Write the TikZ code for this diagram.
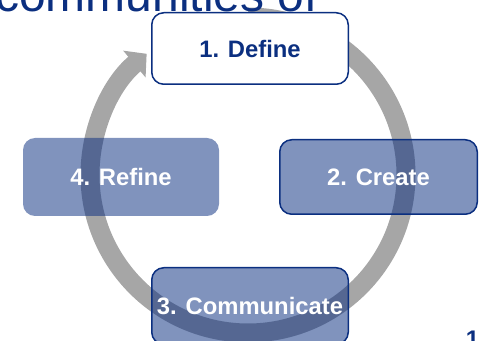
\documentclass[tikz,border=0pt]{standalone}
\usepackage{fontspec}
\setmainfont{Liberation Sans}
\usepackage{tikz}
\usetikzlibrary{arrows.meta}
\definecolor{stepblue}{HTML}{0B2F80}
\definecolor{ringgrey}{HTML}{A6A6A6}

\begin{document}
\begin{tikzpicture}[x=1pt,y=1pt,
		stepbox/.style={rounded corners=12pt,align=center,inner sep=0pt,font=\bfseries\fontsize{23.8}{28}\selectfont},
		bluebox/.style={stepbox,fill=stepblue,fill opacity=0.52,text opacity=1,text=white},
		ring/.style={line width=19pt,draw=ringgrey,-{Triangle[width=34pt,length=16pt]}}]
		\useasboundingbox (0,0) rectangle (479,340);
		\coordinate (hub)at(248,165);
		
		\draw[ring] ([shift={(90:158)}]hub) arc[start angle=90,end angle=-230.1,radius=158];
		
		\node[anchor=base west,inner sep=0pt,text=stepblue,font=\fontsize{48}{56}\selectfont] (title)at(-5,328) {communities of};
		\node[stepbox,draw=stepblue,line width=1.5pt,fill=white,text=stepblue,minimum width=196.5pt,minimum height=71.5pt] (define)at(250,291.5) {1. Define};
		\node[bluebox,draw=stepblue,line width=1.5pt,minimum width=197.5pt,minimum height=74.5pt] (create)at(378.5,163) {2. Create};
		\node[bluebox,draw=stepblue,line width=1.5pt,minimum width=196.5pt,minimum height=76.5pt] (communicate)at(250,34) {3. Communicate};
		\node[bluebox,minimum width=196pt,minimum height=78pt] (refine)at(121,163) {4. Refine};
		\node[anchor=base,inner sep=0pt,text=stepblue,font=\bfseries\fontsize{24}{28}\selectfont] (pagenum)at(472.5,-7) {1};
	\end{tikzpicture}
\end{document}
